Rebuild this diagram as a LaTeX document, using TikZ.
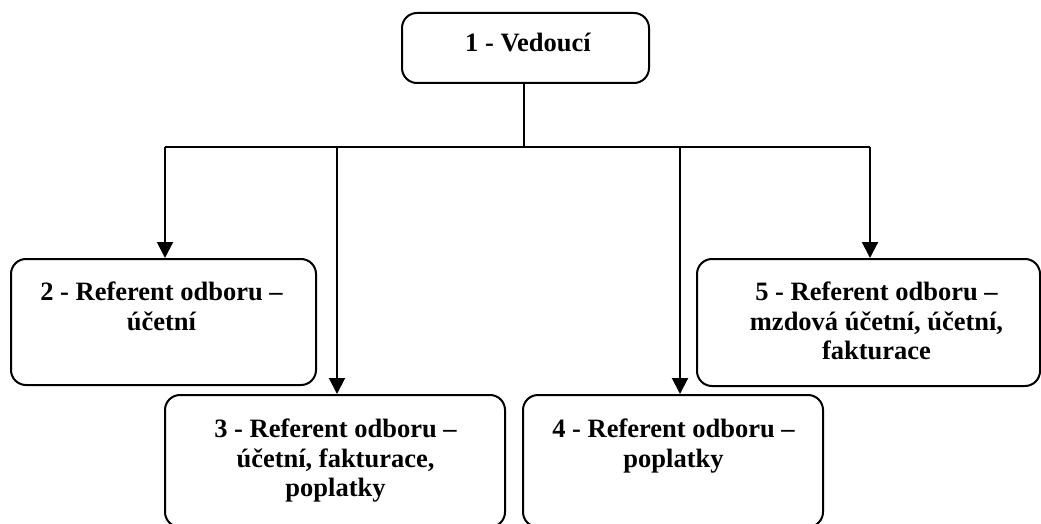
\documentclass[tikz,border=0pt]{standalone}
\usepackage{fontspec}
\setmainfont{Liberation Serif}
\usetikzlibrary{arrows.meta}
\begin{document}
\begin{tikzpicture}[x=1pt,y=-1pt,
  box/.style={draw, line width=2pt, rounded corners=15pt, inner sep=0pt},
  lbl/.style={font=\fontsize{26.5}{29.5}\selectfont\bfseries, align=center, inner sep=0pt, anchor=north},
  link/.style={line width=2pt},
  arrowlink/.style={link, -{Triangle[length=16pt,width=16pt]}}]
\clip (0,0) rectangle (1041,524);
\fill[white] (0,0) rectangle (1041,524);

% boxes
\node[box, minimum width=247pt, minimum height=70pt]  (b1) at (525.5,48)  {};
\node[box, minimum width=305pt, minimum height=126pt] (b2) at (163.5,322) {};
\node[box, minimum width=340pt, minimum height=132pt] (b3) at (335,461)   {};
\node[box, minimum width=300pt, minimum height=132pt] (b4) at (673,461)   {};
\node[box, minimum width=343pt, minimum height=127pt] (b5) at (868.5,322.5) {};

% texts (top aligned inside the boxes)
\node[lbl] (t1) at (528,33)   {1 - Vedoucí};
\node[lbl] (t2) at (161.5,282) {2 - Referent odboru –\\účetní};
\node[lbl] (t3) at (335.5,419) {3 - Referent odboru –\\účetní, fakturace,\\poplatky};
\node[lbl] (t4) at (673.5,419) {4 - Referent odboru –\\poplatky};
\node[lbl] (t5) at (876.5,282) {5 - Referent odboru –\\mzdová účetní, účetní,\\fakturace};

% connectors
\coordinate (j)  at (524,147);
\coordinate (d2) at (165,147);
\coordinate (d3) at (337,147);
\coordinate (d4) at (680,147);
\coordinate (d5) at (870,147);
\draw[link] (j |- b1.south) -- (j);
\draw[link] (d2) -- (d5);
\draw[arrowlink] (d2) -- (d2 |- b2.north);
\draw[arrowlink] (d3) -- (d3 |- b3.north);
\draw[arrowlink] (d4) -- (d4 |- b4.north);
\draw[arrowlink] (d5) -- (d5 |- b5.north);
\end{tikzpicture}
\end{document}
